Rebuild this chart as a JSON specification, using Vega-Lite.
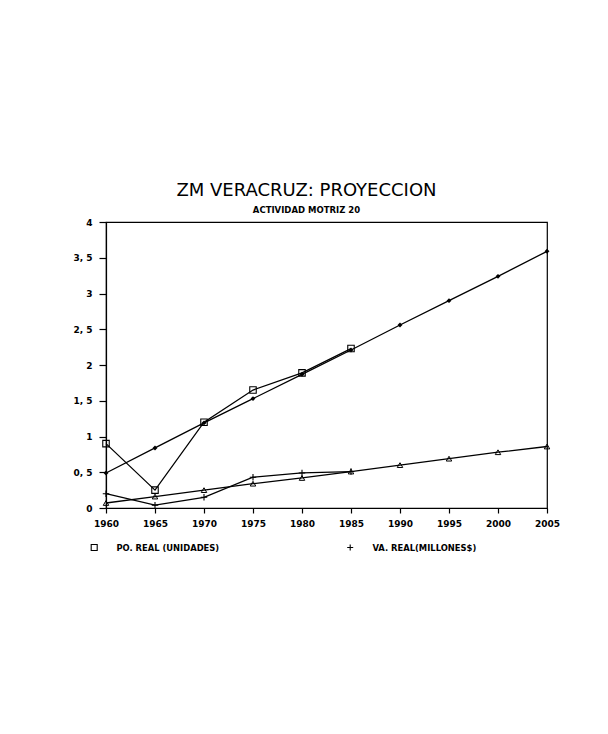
{
  "$schema": "https://vega.github.io/schema/vega-lite/v6.json",
  "autosize": "none",
  "padding": {"left": 106, "top": 222, "right": 61, "bottom": 226},
  "width": 441,
  "height": 286,
  "background": "white",
  "title": {
    "text": "ZM VERACRUZ: PROYECCION",
    "subtitle": "ACTIVIDAD MOTRIZ 20",
    "anchor": "middle",
    "dx": -20,
    "offset": 4,
    "font": "DejaVu Sans",
    "fontSize": 18,
    "fontWeight": "normal",
    "color": "black",
    "subtitleFont": "DejaVu Sans",
    "subtitleFontSize": 8.5,
    "subtitleFontWeight": "bold",
    "subtitleColor": "black",
    "subtitlePadding": 6
  },
  "data": {
    "values": [
      {"year": 1960, "value": 0.90, "series": "PO. REAL (UNIDADES)"},
      {"year": 1965, "value": 0.25, "series": "PO. REAL (UNIDADES)"},
      {"year": 1970, "value": 1.20, "series": "PO. REAL (UNIDADES)"},
      {"year": 1975, "value": 1.65, "series": "PO. REAL (UNIDADES)"},
      {"year": 1980, "value": 1.89, "series": "PO. REAL (UNIDADES)"},
      {"year": 1985, "value": 2.23, "series": "PO. REAL (UNIDADES)"},
      {"year": 1960, "value": 0.49, "series": "PO PROYECCION"},
      {"year": 1965, "value": 0.84, "series": "PO PROYECCION"},
      {"year": 1970, "value": 1.19, "series": "PO PROYECCION"},
      {"year": 1975, "value": 1.53, "series": "PO PROYECCION"},
      {"year": 1980, "value": 1.87, "series": "PO PROYECCION"},
      {"year": 1985, "value": 2.21, "series": "PO PROYECCION"},
      {"year": 1990, "value": 2.56, "series": "PO PROYECCION"},
      {"year": 1995, "value": 2.90, "series": "PO PROYECCION"},
      {"year": 2000, "value": 3.24, "series": "PO PROYECCION"},
      {"year": 2005, "value": 3.59, "series": "PO PROYECCION"},
      {"year": 1960, "value": 0.20, "series": "VA. REAL(MILLONES$)"},
      {"year": 1965, "value": 0.04, "series": "VA. REAL(MILLONES$)"},
      {"year": 1970, "value": 0.15, "series": "VA. REAL(MILLONES$)"},
      {"year": 1975, "value": 0.43, "series": "VA. REAL(MILLONES$)"},
      {"year": 1980, "value": 0.49, "series": "VA. REAL(MILLONES$)"},
      {"year": 1985, "value": 0.51, "series": "VA. REAL(MILLONES$)"},
      {"year": 1960, "value": 0.07, "series": "VA PROYECCION"},
      {"year": 1965, "value": 0.16, "series": "VA PROYECCION"},
      {"year": 1970, "value": 0.25, "series": "VA PROYECCION"},
      {"year": 1975, "value": 0.34, "series": "VA PROYECCION"},
      {"year": 1980, "value": 0.42, "series": "VA PROYECCION"},
      {"year": 1985, "value": 0.51, "series": "VA PROYECCION"},
      {"year": 1990, "value": 0.60, "series": "VA PROYECCION"},
      {"year": 1995, "value": 0.69, "series": "VA PROYECCION"},
      {"year": 2000, "value": 0.78, "series": "VA PROYECCION"},
      {"year": 2005, "value": 0.86, "series": "VA PROYECCION"}
    ]
  },
  "encoding": {
    "x": {
      "field": "year", "type": "quantitative",
      "scale": {"domain": [1960, 2005], "nice": false, "zero": false},
      "axis": {"values": [1960,1965,1970,1975,1980,1985,1990,1995,2000,2005], "format": "d", "title": null, "grid": false, "tickSize": 5, "labelPadding": 6, "labelFlush": false, "labelOverlap": false}
    },
    "y": {
      "field": "value", "type": "quantitative",
      "scale": {"domain": [0, 4], "nice": false},
      "axis": {"values": [0,0.5,1,1.5,2,2.5,3,3.5,4], "title": null, "grid": false, "tickSize": 7, "labelPadding": 7, "labelFlush": false, "labelExpr": "datum.value % 1 == 0 ? format(datum.value, 'd') : replace(format(datum.value, '.1f'), '.', ', ')"}
    }
  },
  "layer": [
    {
      "mark": {"type": "line", "color": "black", "strokeWidth": 1.3},
      "encoding": {"detail": {"field": "series"}}
    },
    {
      "transform": [{"filter": "datum.series == 'PO. REAL (UNIDADES)' || datum.series == 'VA. REAL(MILLONES$)'"}],
      "mark": {"type": "point", "filled": false, "color": "black", "strokeWidth": 1.1, "size": 42, "opacity": 1},
      "encoding": {
        "shape": {
          "field": "series", "type": "nominal",
          "scale": {"domain": ["PO. REAL (UNIDADES)", "VA. REAL(MILLONES$)"], "range": ["square", "M-1,0H1M0,-1V1"]},
          "legend": {"title": null, "orient": "none", "legendX": -16, "legendY": 321, "direction": "horizontal", "columnPadding": 125, "labelOffset": 18, "padding": 0, "symbolSize": 36, "symbolStrokeWidth": 1.1, "symbolStrokeColor": "black"}
        }
      }
    },
    {
      "transform": [{"filter": "datum.series == 'PO PROYECCION'"}],
      "mark": {"type": "point", "shape": "diamond", "filled": true, "color": "black", "size": 24, "opacity": 1}
    },
    {
      "transform": [{"filter": "datum.series == 'VA PROYECCION'"}],
      "mark": {"type": "point", "shape": "triangle-up", "filled": false, "color": "black", "strokeWidth": 1, "size": 30, "opacity": 1}
    }
  ],
  "config": {
    "view": {"stroke": "black", "strokeWidth": 1.2},
    "axis": {
      "domainColor": "black", "domainWidth": 1.2, "tickColor": "black", "tickWidth": 1.2,
      "labelFont": "DejaVu Sans", "labelFontSize": 9, "labelFontWeight": "bold", "labelColor": "black"
    },
    "legend": {"labelFont": "DejaVu Sans", "labelFontSize": 8.4, "labelFontWeight": "bold", "labelColor": "black"}
  }
}
